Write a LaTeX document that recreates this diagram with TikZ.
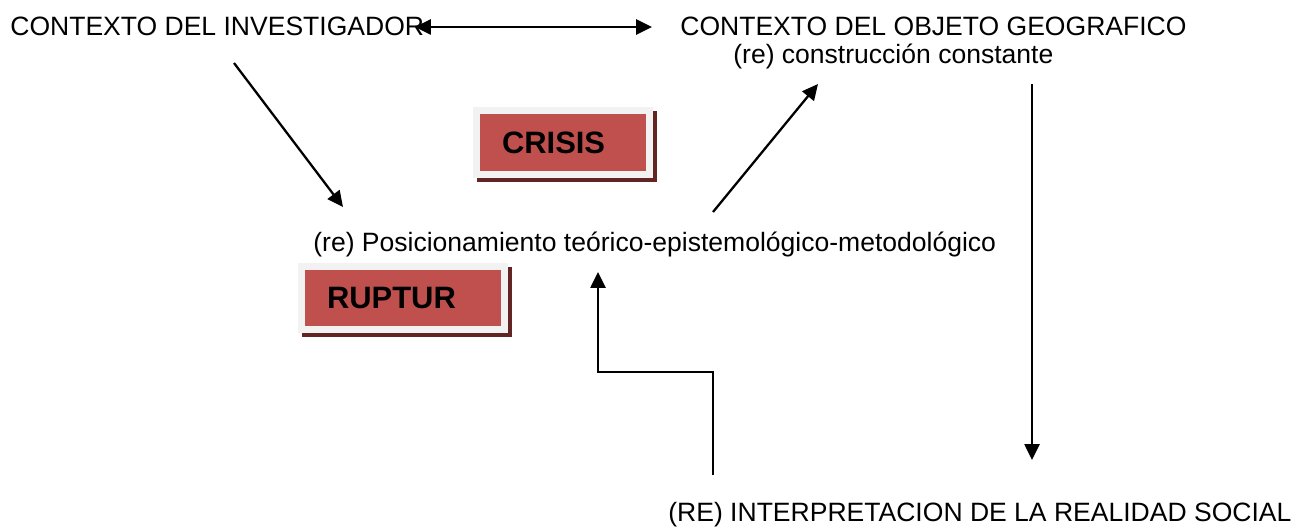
\documentclass[tikz,border=0pt]{standalone}
\usepackage{fontspec}
\setmainfont{Liberation Sans}
\usetikzlibrary{arrows.meta,backgrounds}
\definecolor{boxred}{HTML}{C0504D}
\definecolor{boxframe}{HTML}{F2F2F2}
\definecolor{boxshade}{HTML}{632523}
\begin{document}
\begin{tikzpicture}[x=0.02cm,y=-0.02cm, every node/.style={inner sep=0pt, anchor=base west, font=\fontsize{15.1}{18}\selectfont}, link/.style={line width=1.3pt, -{Triangle[length=9pt,width=8.5pt]}}, tag/.style={draw=boxframe, line width=3.97pt, fill=boxred, anchor=center, align=left, inner xsep=14.5pt, minimum height=36.3pt, font=\bfseries\fontsize{17.6}{20}\selectfont}]
	\useasboundingbox (0,0) rectangle (1307,527);
	\node (investigador) at (10,36) {CONTEXTO DEL INVESTIGADOR};
	\node (objeto) at (680,36) {CONTEXTO DEL OBJETO GEOGRAFICO};
	\node (construccion) at (733,64) {(re) construcción constante};
	\node (posicionamiento) at (313,251) {(re) Posicionamiento teórico-epistemológico-metodológico};
	\node (realidad) at (668,521) {(RE) INTERPRETACION DE LA REALIDAD SOCIAL};
	\node[tag, text width=2.44cm] (crisis) at (563,142.5) {CRISIS};
	\node[tag, text width=3.04cm] (ruptura) at (403,298) {RUPTUR};
	\begin{scope}[on background layer]
		\fill[boxshade] ([shift={(4,4)}]crisis.north west) rectangle ([shift={(4,4)}]crisis.south east);
		\fill[boxshade] ([shift={(4,4)}]ruptura.north west) rectangle ([shift={(4,4)}]ruptura.south east);
	\end{scope}
	\draw[link, {Triangle[length=9pt,width=8.5pt]}-{Triangle[length=9pt,width=8.5pt]}] ([shift={(405,-9)}]investigador.base west) -- ([shift={(-28,-9)}]objeto.base west);
	\draw[link] ([shift={(224,27)}]investigador.base west) -- ([shift={(30,-44)}]posicionamiento.base west);
	\draw[link] ([shift={(400,-39)}]posicionamiento.base west) -- ([shift={(85,20)}]construccion.base west);
	\draw[link] ([shift={(299,20)}]construccion.base west) -- ([shift={(364,-61)}]realidad.base west);
	\draw[link] ([shift={(45,-46)}]realidad.base west) |- ([shift={(285,121)}]posicionamiento.base west) -- ([shift={(285,21)}]posicionamiento.base west);
\end{tikzpicture}
\end{document}
